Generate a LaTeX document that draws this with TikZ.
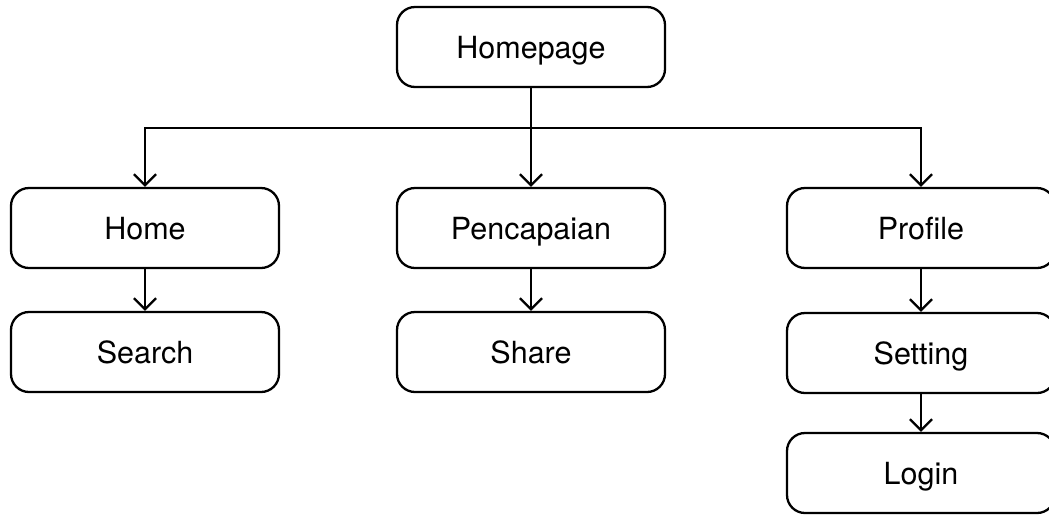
\documentclass[tikz,border=0pt]{standalone}
\usepackage{fontspec}
\setmainfont{TeX Gyre Heros}
\usetikzlibrary{positioning, arrows.meta}

\tikzset{
    menubox/.style={draw, line width=2.3pt, rounded corners=18pt, fill=white,
        minimum width=268pt, minimum height=80pt, inner sep=0pt,
        text height=22pt, text depth=0pt,
        font=\fontsize{30.5}{36}\selectfont},
    link/.style={line width=2.3pt, -{Straight Barb[length=11pt, width=22pt, line width=2.3pt]}}
}

\begin{document}
\begin{tikzpicture}[x=1pt, y=-1pt]
    \useasboundingbox (0,0) rectangle (1049,515);

    % Top level
    \node[menubox] (homepage) at (531, 47) {Homepage};

    % Menu row
    \node[menubox] (home) at (145, 228) {Home};
    \node[menubox] (pencapaian) at (531, 228) {Pencapaian};
    \node[menubox] (profile) at (921, 228) {Profile};

    % Sub pages
    \node[menubox] (search) at (145, 352) {Search};
    \node[menubox] (share) at (531, 352) {Share};
    \node[menubox] (setting) at (921, 353) {Setting};
    \node[menubox] (login) at (921, 473) {Login};

    % Branch point below the homepage
    \coordinate (split) at (531, 128);

    \draw[line width=2.3pt] (homepage) -- (split);
    \draw[link] (split) -| (home);
    \draw[link] (split) -- (pencapaian);
    \draw[link] (split) -| (profile);

    \draw[link] (home) -- (search);
    \draw[link] (pencapaian) -- (share);
    \draw[link] (profile) -- (setting);
    \draw[link] (setting) -- (login);
\end{tikzpicture}
\end{document}
